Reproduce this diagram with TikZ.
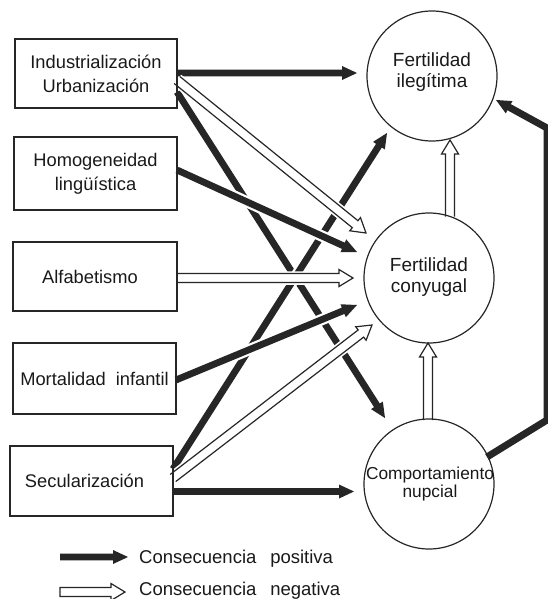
\documentclass[tikz,border=0pt]{standalone}
\usepackage{fontspec}
\setmainfont{Liberation Sans}
\usetikzlibrary{calc,backgrounds}
\def\fw{3.4pt}\def\fhw{7pt}\def\fhl{15pt}
\def\hw{4.5pt}\def\hhw{8.5pt}\def\hhl{14pt}
\tikzset{
 boxn/.style={draw=black!85, line width=1.2pt, rectangle, minimum width=163pt, minimum height=70pt, align=center, font=\fontsize{18.3}{24}\selectfont, text=black!90, inner sep=0pt},
 circn/.style={draw=black!85, line width=1.2pt, circle, minimum size=130pt, inner sep=0pt},
 ctext/.style={align=center, font=\fontsize{19}{21}\selectfont, text=black!90, inner sep=0pt},
 legtext/.style={anchor=west, font=\fontsize{18.5}{21}\selectfont, text=black!90, inner sep=0pt},
 halo/.style={preaction={draw=white, line width=4.5pt, line join=round}},
 farr/.style={halo, fill=black!85, draw=none},
 harr/.style={halo, fill=white, draw=black!85, line width=1.2pt, line join=miter},
}
\newcommand\farrow[2]{\path[farr] ($(#1)!\fw!90:(#2)$) -- ($(#2)!\fhl!(#1)!\fw!-90:(#1)$) -- ($(#2)!\fhl!(#1)!\fhw!-90:(#1)$) -- (#2) -- ($(#2)!\fhl!(#1)!\fhw!90:(#1)$) -- ($(#2)!\fhl!(#1)!\fw!90:(#1)$) -- ($(#1)!\fw!-90:(#2)$) -- cycle;}
\newcommand\harrow[3][]{\path[harr] ($(#2)!\hw!90:(#3)$) -- ($(#3)!\hhl!(#2)!\hw!-90:(#2)$) -- ($(#3)!\hhl!(#2)!\hhw!-90:(#2)$) -- (#3) -- ($(#3)!\hhl!(#2)!\hhw!90:(#2)$) -- ($(#3)!\hhl!(#2)!\hw!90:(#2)$) -- ($(#2)!\hw!-90:(#3)$) #1;}
\begin{document}
\begin{tikzpicture}[x=1pt,y=-1pt]
\useasboundingbox (0,0) rectangle (548,599);
% boxes
\node[boxn, minimum width=162pt, minimum height=69pt] (b1) at (96,73.5) {Industrialización\\Urbanización};
\node[boxn, minimum height=73pt] (b2) at (95.5,173.5) {Homogeneidad\\lingüística};
\node[boxn, minimum width=164pt, minimum height=69pt] (b3) at (95,276.5) {Alfabetismo\hspace{10pt}};
\node[boxn, minimum height=71pt] (b4) at (94.5,378.5) {Mortalidad\hspace{0.55em}infantil};
\node[boxn] (b5) at (91.5,481) {Secularización\hspace{14pt}};
% circles
\node[circn] (c1) at (432,76) {};
\node[ctext] (c1t) at (432,72) {Fertilidad\\ilegítima};
\node[circn] (c2) at (429,278) {};
\node[ctext] (c2t) at (429,277.5) {Fertilidad\\conyugal};
\node[circn] (c3) at (429,484) {};
\node[ctext, font=\fontsize{17.3}{17.5}\selectfont] (c3t) at (430,484) {Comportamiento\\nupcial};
% connector end points
\coordinate (s1) at (177,73);   \coordinate (t1) at (357,73);
\coordinate (s2) at (177,80);   \coordinate (t2) at (366,233);
\coordinate (s3) at (177,92);   \coordinate (t3) at (385,418);
\coordinate (s4) at (177,170);  \coordinate (t4) at (357,252);
\coordinate (s5) at (177,278);  \coordinate (t5) at (353,278);
\coordinate (s6) at (176,380);  \coordinate (t6) at (357,305);
\coordinate (s7) at (173,469);  \coordinate (t7) at (387,133);
\coordinate (s8) at (173,478);  \coordinate (t8) at (372,325);
\coordinate (s9) at (173,491.5);\coordinate (t9) at (354,491.5);
\coordinate (s10) at (428,420); \coordinate (t10) at (428,343);
\coordinate (s11) at (450,216.5); \coordinate (t11) at (450,140);
\coordinate (fb0) at (487,457); \coordinate (fb1) at (547,420);
\coordinate (fb2) at (547,128); \coordinate (fb3) at (496,100);
% legend
\coordinate (la1) at (60,557); \coordinate (lb1) at (128,557);
\coordinate (la2) at (60,592); \coordinate (lb2) at (125,592);
\node[legtext] (lt1) at (139,559) {Consecuencia\hspace{0.75em}positiva};
\node[legtext] (lt2) at (139,591) {Consecuencia\hspace{0.75em}negativa};
\begin{scope}[on background layer]
 \farrow{s3}{t3}
 \farrow{s7}{t7}
 \farrow{s4}{t4}
 \farrow{s6}{t6}
 \farrow{s1}{t1}
 \farrow{s9}{t9}
 \harrow{s2}{t2}
 \harrow{s5}{t5}
 \harrow{s8}{t8}
 \harrow{s10}{t10}
 \harrow{s11}{t11}
 \draw[black!85, line width=7pt, shorten >=14pt, line join=miter] (fb0) -- (fb1) -- (fb2) -- (fb3);
 \fill[black!85] ($(fb3)!\fhl!(fb2)!\fhw!-90:(fb2)$) -- (fb3) -- ($(fb3)!\fhl!(fb2)!\fhw!90:(fb2)$) -- cycle;
 \farrow{la1}{lb1}
 \harrow[-- cycle]{la2}{lb2}
\end{scope}
\end{tikzpicture}
\end{document}
